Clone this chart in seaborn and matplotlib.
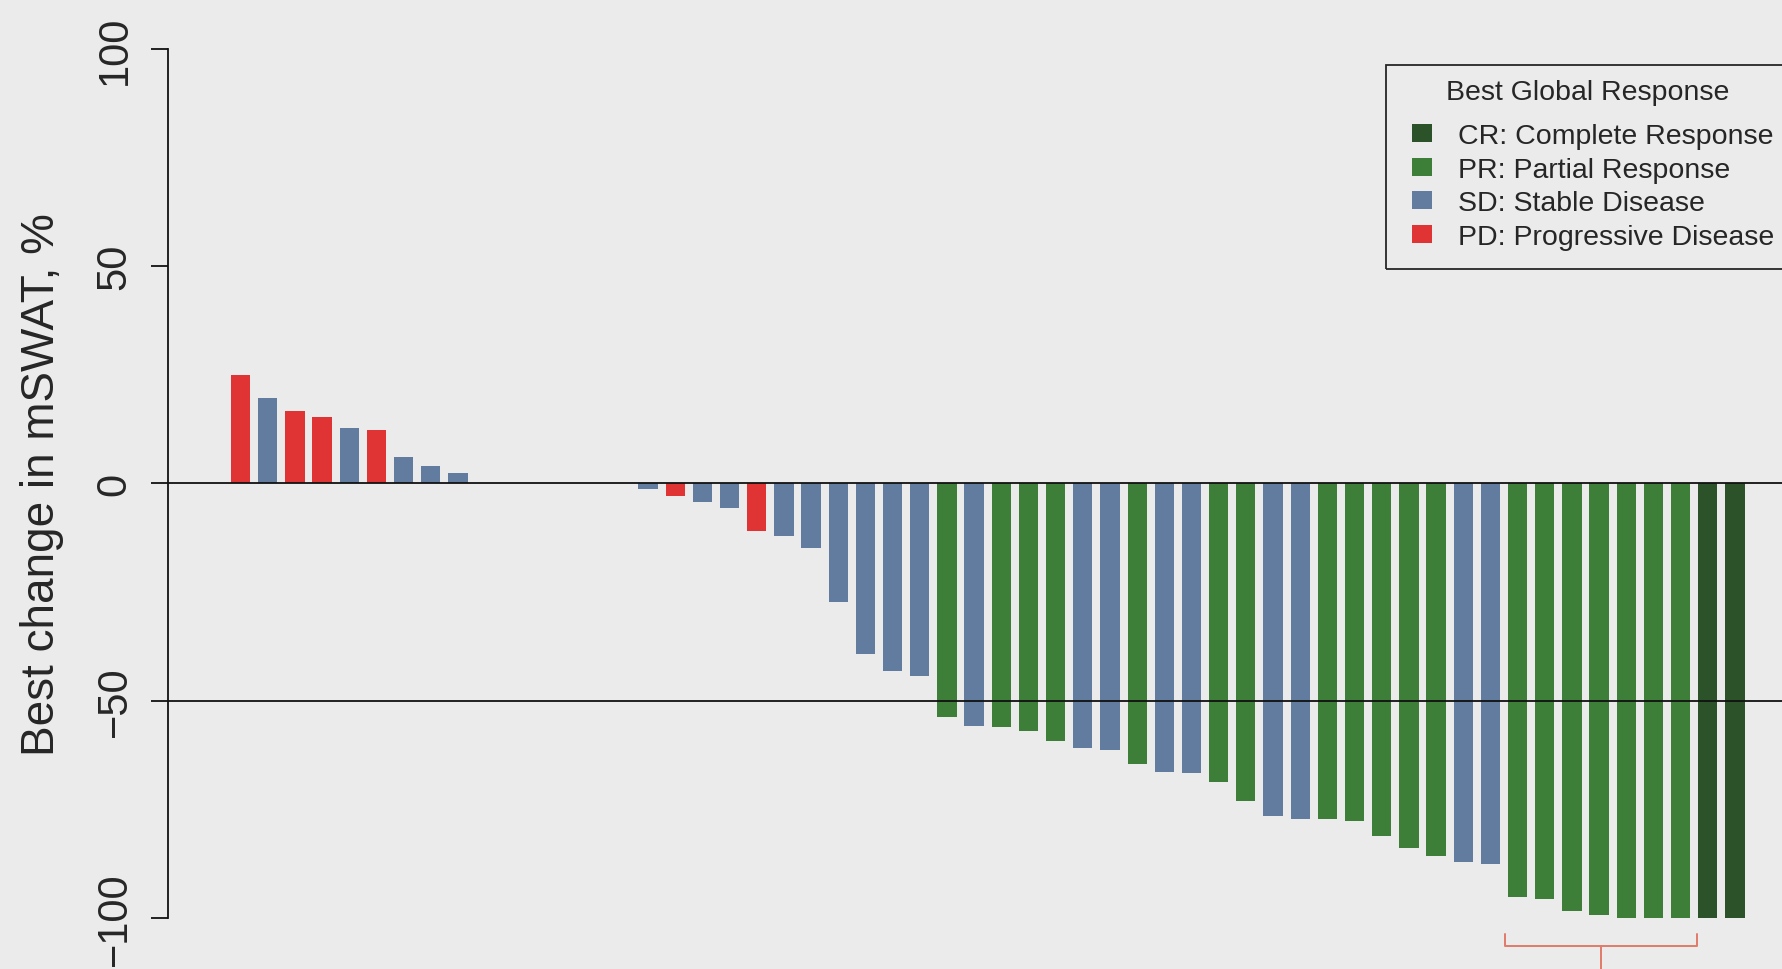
import matplotlib
matplotlib.use("Agg")
import matplotlib.pyplot as plt
from matplotlib.patches import Patch, Rectangle
import seaborn as sns
import pandas as pd

# Best change in mSWAT per patient, ordered from largest increase to largest decrease
best_change = [
    25.0, 19.6, 16.7, 15.2, 12.8, 12.3, 6.0, 4.1, 2.3,
    0, 0, 0, 0, 0, 0,
    -1.2, -2.9, -4.4, -5.7, -10.9, -12.1, -14.8, -27.4, -39.4, -43.3, -44.3,
    -53.7, -55.9, -56.2, -57.0, -59.3, -60.9, -61.3, -64.5, -66.5, -66.7,
    -68.8, -73.1, -76.6, -77.3, -77.2, -77.8, -81.2, -83.9, -85.9, -87.2, -87.7,
    -95.3, -95.7, -98.4, -99.4, -100, -100, -100, -100, -100,
]
best_response = (
    ["PD", "SD", "PD", "PD", "SD", "PD", "SD", "SD", "SD"]
    + ["SD"] * 6
    + ["SD", "PD", "SD", "SD", "PD", "SD", "SD", "SD", "SD", "SD", "SD"]
    + ["PR", "SD", "PR", "PR", "PR", "SD", "SD", "PR", "SD", "SD"]
    + ["PR", "PR", "SD", "SD", "PR", "PR", "PR", "PR", "PR", "SD", "SD"]
    + ["PR"] * 7
    + ["CR", "CR"]
)
patients = [f"P{i + 1:02d}" for i in range(len(best_change))]

response_codes = ["CR", "PR", "SD", "PD"]
response_labels = [
    "CR: Complete Response",
    "PR: Partial Response",
    "SD: Stable Disease",
    "PD: Progressive Disease",
]
legend_title = "Best Global Response"
y_ticks = [-100, -50, 0, 50, 100]
y_tick_labels = ["\u2212100", "\u221250", "0", "50", "100"]
reference_lines = [0, -50]
bracket_span = (46.55, 53.6)  # patients 48-54 (bar positions)

colors = {"CR": "#2c5229", "PR": "#3d7e38", "SD": "#627c9f", "PD": "#e03434"}
bg = "#ebebeb"
ink = "#262626"

sns.set_theme(style="white")
plt.rcParams["font.family"] = ["Liberation Sans", "DejaVu Sans"]

W, H = 1783, 970
fig = plt.figure(figsize=(W / 100, H / 100), dpi=100)
fig.patch.set_facecolor(bg)
ax_left = 168 / W
ax = fig.add_axes([ax_left, 0, 1 - ax_left, 1])
ax.set_facecolor(bg)

df = pd.DataFrame({"patient": patients, "change": best_change, "response": best_response})
sns.barplot(
    data=df, x="patient", y="change", hue="response", order=patients,
    hue_order=response_codes, palette=colors, dodge=False, width=0.71,
    saturation=1, linewidth=0, legend=False, ax=ax,
)

for yv in reference_lines:
    ax.axhline(yv, color="#111111", lw=1.3, zorder=5)

ax.set_xlim(-2.67, 56.77)
ax.set_ylim(-111.8, 111.5)

for side in ["top", "right", "bottom"]:
    ax.spines[side].set_visible(False)
ax.spines["left"].set_bounds(-100, 100)
ax.spines["left"].set_color("#111111")
ax.spines["left"].set_linewidth(1.3)
ax.set_xticks([])
ax.set_xlabel("")
ax.set_yticks(y_ticks)
ax.set_yticklabels(y_tick_labels, rotation=90, va="center", fontsize=30, color=ink)
ax.tick_params(axis="y", direction="out", length=12, width=1.3, color="#111111",
               pad=12, left=True)
ax.set_ylabel("Best change in mSWAT, %", fontsize=33, color=ink)
ax.yaxis.set_label_coords((64 - 168) / (W - 168), 0.5)

# bracket beneath the deepest partial responses
x0, x1 = bracket_span
xc = (x0 + x1) / 2
bracket_color = "#e07a6a"
ax.plot([x0, x0, x1, x1], [-103.7, -106.5, -106.5, -103.7], color=bracket_color,
        lw=1.4, clip_on=False, zorder=4)
ax.plot([xc, xc], [-106.5, -115], color=bracket_color, lw=1.4, clip_on=False, zorder=4)

# legend
handles = [Patch(facecolor=colors[c], edgecolor="none") for c in response_codes]
leg = fig.legend(
    handles, response_labels,
    loc="upper left", bbox_to_anchor=(1412 / W, 1 - 124 / H),
    frameon=False, fontsize=20.5,
    handlelength=0.72, handleheight=0.6, handletextpad=0.9,
    labelspacing=0.27, borderpad=0, borderaxespad=0,
)
for t in leg.get_texts():
    t.set_color(ink)
fig.text(1588 / W, 1 - 93 / H, legend_title, ha="center", va="center",
         fontsize=20.5, color=ink)
fig.add_artist(Rectangle((1386 / W, 1 - 270 / H), (1800 - 1386) / W, (270 - 66) / H,
                         transform=fig.transFigure, facecolor="none",
                         edgecolor=ink, lw=1.3, clip_on=False))

fig.savefig("out.png", dpi=100, facecolor=bg)
